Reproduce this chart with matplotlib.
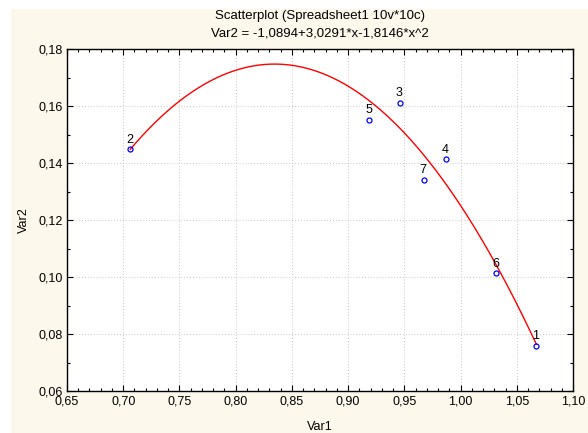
import numpy as np
import matplotlib
matplotlib.use("Agg")
import matplotlib.pyplot as plt
from matplotlib.ticker import MultipleLocator, FuncFormatter
from matplotlib.patches import Rectangle

plt.rcParams['font.family'] = ['Liberation Sans', 'DejaVu Sans']

# data
labels = ["1", "2", "3", "4", "5", "6", "7"]
var1 = [1.0674, 0.7063, 0.9462, 0.9868, 0.9189, 1.0318, 0.9672]
var2 = [0.0758, 0.1449, 0.1612, 0.1413, 0.1552, 0.1013, 0.1341]

# quadratic fit coefficients shown in the title (c0, c1, c2)
fit_coefs = [-1.0894, 3.0291, -1.8146]

fig = plt.figure(figsize=(5.88, 4.33), dpi=100, facecolor="white")
fig.patches.append(Rectangle((11 / 588, 0), 1, 424 / 433, transform=fig.transFigure,
                             facecolor="#fdf8ec", edgecolor="none", zorder=-10))

ax = fig.add_axes([67 / 588, 42 / 433, 506 / 588, 342 / 433])
ax.set_facecolor("white")

xs = np.linspace(min(var1), max(var1), 200)
ys = np.polyval(fit_coefs[::-1], xs)
ax.plot(xs, ys, color="red", lw=1.0, zorder=2)

ax.plot(var1, var2, "o", ms=3.6, mfc="none", mec="blue", mew=0.9, zorder=3)
for lab, x, y in zip(labels, var1, var2):
    ax.annotate(lab, (x, y), xytext=(-0.5, 2.5), textcoords="offset points",
                ha="center", va="bottom", fontsize=9, color="black")

ax.set_xlim(0.65, 1.10)
ax.set_ylim(0.06, 0.18)
ax.xaxis.set_major_locator(MultipleLocator(0.05))
ax.xaxis.set_minor_locator(MultipleLocator(0.01))
ax.yaxis.set_major_locator(MultipleLocator(0.02))
ax.yaxis.set_minor_locator(MultipleLocator(0.01))
comma = FuncFormatter(lambda v, p: f"{v:.2f}".replace(".", ","))
ax.xaxis.set_major_formatter(comma)
ax.yaxis.set_major_formatter(comma)

ax.tick_params(which="both", direction="in", top=True, right=True, labelsize=9, colors="black")
ax.tick_params(which="major", length=4, width=0.8, pad=3)
ax.tick_params(which="minor", length=2, width=0.8)
ax.grid(True, which="major", color="#c8c8c8", ls=(0, (1, 2)), lw=0.7)
for s in ax.spines.values():
    s.set_color("black")
    s.set_linewidth(1.0)

ax.set_xlabel("Var1", fontsize=9, labelpad=10)
ax.set_ylabel("Var2", fontsize=9, labelpad=6)
fig.text(320 / 588, 1 - 16.5 / 433, "Scatterplot (Spreadsheet1 10v*10c)", ha="center", va="center", fontsize=9.5)
fig.text(320 / 588, 1 - 33.5 / 433, "Var2 = -1,0894+3,0291*x-1,8146*x^2", ha="center", va="center", fontsize=9.5)

fig.savefig("out.png", dpi=100, facecolor=fig.get_facecolor())
